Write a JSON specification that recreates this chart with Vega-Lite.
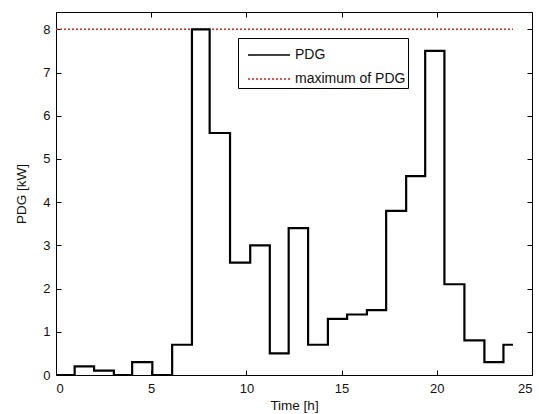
{
  "$schema": "https://vega.github.io/schema/vega-lite/v6.json",
  "autosize": {"type": "none"},
  "width": 476,
  "height": 363,
  "padding": {"left": 56, "top": 12, "right": 7, "bottom": 39},
  "background": "white",
  "config": {
    "view": {"stroke": "black", "strokeWidth": 1},
    "font": "Liberation Sans",
    "axis": {
      "labelFont": "Liberation Sans",
      "titleFont": "Liberation Sans",
      "labelFontSize": 13,
      "titleFontSize": 13.5,
      "titleFontWeight": "normal",
      "labelColor": "#111",
      "titleColor": "#111",
      "domain": false,
      "tickColor": "black",
      "grid": false,
      "tickSize": 5,
      "offset": -5,
      "zindex": 1
    }
  },
  "datasets": {
    "pdg": [
      {"t": 0, "p": 0, "series": "PDG"},
      {"t": 0.98, "p": 0.2, "series": "PDG"},
      {"t": 2.0, "p": 0.1, "series": "PDG"},
      {"t": 3.04, "p": 0, "series": "PDG"},
      {"t": 4.0, "p": 0.3, "series": "PDG"},
      {"t": 5.06, "p": 0, "series": "PDG"},
      {"t": 6.1, "p": 0.7, "series": "PDG"},
      {"t": 7.14, "p": 8, "series": "PDG"},
      {"t": 8.07, "p": 5.6, "series": "PDG"},
      {"t": 9.14, "p": 2.6, "series": "PDG"},
      {"t": 10.2, "p": 3.0, "series": "PDG"},
      {"t": 11.23, "p": 0.5, "series": "PDG"},
      {"t": 12.22, "p": 3.4, "series": "PDG"},
      {"t": 13.24, "p": 0.7, "series": "PDG"},
      {"t": 14.28, "p": 1.3, "series": "PDG"},
      {"t": 15.29, "p": 1.4, "series": "PDG"},
      {"t": 16.33, "p": 1.5, "series": "PDG"},
      {"t": 17.34, "p": 3.8, "series": "PDG"},
      {"t": 18.39, "p": 4.6, "series": "PDG"},
      {"t": 19.39, "p": 7.5, "series": "PDG"},
      {"t": 20.4, "p": 2.1, "series": "PDG"},
      {"t": 21.45, "p": 0.8, "series": "PDG"},
      {"t": 22.5, "p": 0.3, "series": "PDG"},
      {"t": 23.5, "p": 0.7, "series": "PDG"},
      {"t": 24.0, "p": 0.7, "series": "PDG"}
    ],
    "maxline": [
      {"t": 0, "p": 8, "series": "maximum of PDG"},
      {"t": 24, "p": 8, "series": "maximum of PDG"}
    ]
  },
  "layer": [
    {
      "data": {"name": "maxline"},
      "mark": {"type": "line", "strokeWidth": 1.6, "clip": true},
      "encoding": {
        "x": {"field": "t", "type": "quantitative", "scale": {"domain": [0, 25], "nice": false},
              "axis": {"orient": "top", "labels": false, "title": null, "values": [0, 5, 10, 15, 20, 25]}},
        "y": {"field": "p", "type": "quantitative", "scale": {"domain": [0, 8.4], "nice": false},
              "axis": {"orient": "right", "labels": false, "title": null, "values": [0, 1, 2, 3, 4, 5, 6, 7, 8]}},
        "color": {"field": "series", "type": "nominal",
                  "scale": {"domain": ["PDG", "maximum of PDG"], "range": ["black", "#d42020"]},
                  "legend": {"orient": "none", "legendX": 182, "legendY": 26, "title": null,
                             "symbolType": "M-1.5,0H1.5", "symbolSize": 784, "symbolStrokeWidth": 1.6,
                             "labelFontSize": 14, "labelFont": "Liberation Sans", "labelColor": "#111",
                             "labelExpr": "datum.label + '   '",
                             "padding": 2, "rowPadding": 2, "labelOffset": 11, "symbolOffset": 14,
                             "strokeColor": "black", "fillColor": "white", "zindex": 2}},
        "strokeDash": {"field": "series", "type": "nominal",
                  "scale": {"domain": ["PDG", "maximum of PDG"], "range": [[1, 0], [2, 2]]},
                  "legend": {"orient": "none", "legendX": 182, "legendY": 26, "title": null,
                             "symbolType": "M-1.5,0H1.5", "symbolSize": 784, "symbolStrokeWidth": 1.6,
                             "labelFontSize": 14, "labelFont": "Liberation Sans", "labelColor": "#111",
                             "labelExpr": "datum.label + '   '",
                             "padding": 2, "rowPadding": 2, "labelOffset": 11, "symbolOffset": 14,
                             "strokeColor": "black", "fillColor": "white", "zindex": 2}}
      }
    },
    {
      "data": {"name": "pdg"},
      "mark": {"type": "line", "interpolate": "step-after", "strokeWidth": 2.2, "clip": true},
      "encoding": {
        "x": {"field": "t", "type": "quantitative",
              "axis": {"orient": "bottom", "title": "Time [h]", "values": [0, 5, 10, 15, 20, 25], "labelPadding": 7, "titlePadding": 3}},
        "y": {"field": "p", "type": "quantitative",
              "axis": {"orient": "left", "title": "PDG [kW]", "values": [0, 1, 2, 3, 4, 5, 6, 7, 8], "labelPadding": 6, "titlePadding": 14}},
        "color": {"field": "series", "type": "nominal",
                  "legend": {"orient": "none", "legendX": 182, "legendY": 26, "title": null,
                             "symbolType": "M-1.5,0H1.5", "symbolSize": 784, "symbolStrokeWidth": 1.6,
                             "labelFontSize": 14, "labelFont": "Liberation Sans", "labelColor": "#111",
                             "labelExpr": "datum.label + '   '",
                             "padding": 2, "rowPadding": 2, "labelOffset": 11, "symbolOffset": 14,
                             "strokeColor": "black", "fillColor": "white", "zindex": 2}},
        "strokeDash": {"field": "series", "type": "nominal",
                  "legend": {"orient": "none", "legendX": 182, "legendY": 26, "title": null,
                             "symbolType": "M-1.5,0H1.5", "symbolSize": 784, "symbolStrokeWidth": 1.6,
                             "labelFontSize": 14, "labelFont": "Liberation Sans", "labelColor": "#111",
                             "labelExpr": "datum.label + '   '",
                             "padding": 2, "rowPadding": 2, "labelOffset": 11, "symbolOffset": 14,
                             "strokeColor": "black", "fillColor": "white", "zindex": 2}}
      }
    }
  ],
  "resolve": {"axis": {"x": "independent", "y": "independent"}}
}
